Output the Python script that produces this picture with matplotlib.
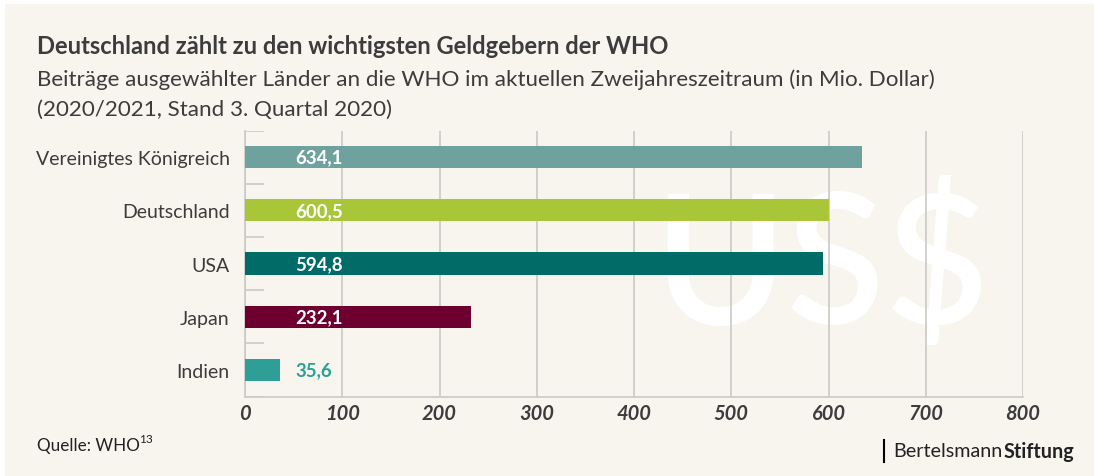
import matplotlib
matplotlib.use("Agg")
from matplotlib import pyplot as plt
from matplotlib.patches import Rectangle

# data
countries = ['Vereinigtes Königreich', 'Deutschland', 'USA', 'Japan', 'Indien']
values = [634.1, 600.5, 594.8, 232.1, 35.6]
bar_colors = ['#6FA29E', '#A9C538', '#016B68', '#6E0030', '#2E9E96']
x_ticks = [0, 100, 200, 300, 400, 500, 600, 700, 800]

BG = '#F7F5EE'
TXT = '#3C3C3C'
GRID = '#C9C9C6'

plt.rcParams['font.family'] = ['Lato', 'DejaVu Sans']

fig = plt.figure(figsize=(10.94, 4.77), dpi=100)
fig.patch.set_facecolor('white')
# beige panel with a thin white margin top/left
fig.patches.append(Rectangle((5 / 1094, 0), 1, 1 - 5 / 477,
                             transform=fig.transFigure, facecolor=BG,
                             edgecolor='none', zorder=-10))

ax = fig.add_axes([245 / 1094, 1 - 397.5 / 477, 778 / 1094, 266 / 477])
ax.set_facecolor('none')

ypos = list(range(len(countries)))
ax.barh(ypos, values, height=0.42, color=bar_colors, zorder=3)

# value labels
for i, v in enumerate(values):
    label = ('%.1f' % v).replace('.', ',')
    inside = v > 100
    ax.text(52, i, label, va='center', ha='left', fontsize=13.4,
            fontweight='bold', color='white' if inside else bar_colors[i],
            zorder=4)

# watermark (behind grid and bars)
ax.text(593, 2.1, 'US$', ha='center', va='center', fontsize=130,
        color='white', zorder=0.5, fontweight='semibold')

ax.set_xlim(0, 800)
ax.set_ylim(len(countries) - 0.5, -0.5)
ax.set_xticks(x_ticks)
ax.set_xticklabels([str(t) for t in x_ticks], fontsize=14.5,
                   fontstyle='italic', fontweight='bold', color=TXT)
ax.grid(axis='x', color=GRID, linewidth=1.2, zorder=1)
ax.set_axisbelow(False)
ax.tick_params(axis='x', length=0, pad=5)

ax.set_yticks(ypos)
ax.set_yticklabels(countries, fontsize=14, color=TXT)
ax.tick_params(axis='y', length=0, pad=11)
# small boundary ticks between categories
for b in [y - 0.5 for y in ypos] + [len(countries) - 0.5]:
    ax.plot([0, 20], [b, b], color=GRID, linewidth=1.2, zorder=2,
            solid_capstyle='butt')

for s in ['top', 'right']:
    ax.spines[s].set_visible(False)
for s in ['left', 'bottom']:
    ax.spines[s].set_color(GRID)
    ax.spines[s].set_linewidth(1.2)

# titles
fig.text(37 / 1094, 1 - 47 / 477, 'Deutschland zählt zu den wichtigsten Geldgebern der WHO',
         fontsize=17.1, fontweight='bold', color=TXT, va='center', ha='left')
fig.text(37 / 1094, 1 - 80 / 477,
         'Beiträge ausgewählter Länder an die WHO im aktuellen Zweijahreszeitraum (in Mio. Dollar)',
         fontsize=16.1, color=TXT, va='center', ha='left')
fig.text(37 / 1094, 1 - 110 / 477, '(2020/2021, Stand 3. Quartal 2020)',
         fontsize=16.1, color=TXT, va='center', ha='left')

# footer
q = fig.text(37 / 1094, 1 - 446 / 477, 'Quelle: WHO', fontsize=12.3,
             color='#222222', va='center', ha='left')
fig.canvas.draw()
qb = q.get_window_extent()
fig.text((qb.x1 - 1) / 1094, 1 - 440 / 477, '13', fontsize=8.5,
         color='#222222', va='center', ha='left')
fig.lines.append(plt.Line2D([884 / 1094, 884 / 1094], [1 - 441 / 477, 1 - 463 / 477],
                            transform=fig.transFigure, color='black', linewidth=1.5))
t1 = fig.text(893 / 1094, 1 - 452 / 477, 'Bertelsmann', fontsize=14.2,
              color='#222222', va='center', ha='left')
fig.canvas.draw()
bb = t1.get_window_extent()
fig.text((bb.x1 + 1) / 1094, 1 - 452 / 477, 'Stiftung', fontsize=14.2,
         fontweight='bold', color='#222222', va='center', ha='left')

fig.savefig('out.png', dpi=100, facecolor=fig.get_facecolor())
